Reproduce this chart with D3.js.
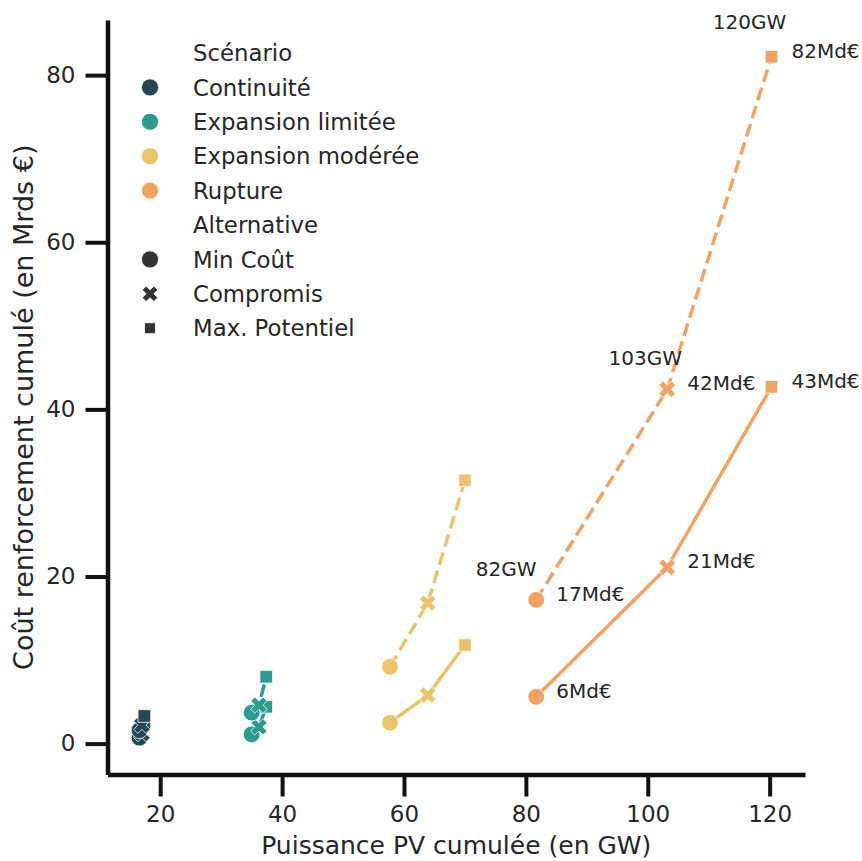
<!DOCTYPE html>
<html>
<head>
<meta charset="utf-8">
<script src="https://cdn.jsdelivr.net/npm/d3@7"></script>
<style>
  html, body { margin: 0; padding: 0; background: #fff; }
  svg { display: block; font-family: "DejaVu Sans", sans-serif; }
</style>
</head>
<body>
<svg id="chart" width="862" height="861"></svg>
<script>
// ---- Data ----
const scenarios = ["Continuité", "Expansion limitée", "Expansion modérée", "Rupture"];
const scenarioColors = ["#264653", "#2a9d8f", "#e9c46a", "#f4a261"];
const alternatives = ["Min Coût", "Compromis", "Max. Potentiel"];
// Cumulative PV capacity (GW) per scenario, per alternative
const pvGW = [
  [16.6, 17.0, 17.4],
  [35.0, 36.2, 37.4],
  [57.7, 63.9, 70.0],
  [81.7, 103.2, 120.3]
];
// Cumulative reinforcement cost (bn €) — solid line series
const costSolid = [
  [0.7, 1.2, 2.4],
  [1.1, 2.0, 4.4],
  [2.5, 5.8, 11.8],
  [5.6, 21.1, 42.7]
];
// Cumulative reinforcement cost (bn €) — dashed line series
const costDashed = [
  [1.6, 2.2, 3.3],
  [3.7, 4.6, 8.0],
  [9.2, 16.8, 31.5],
  [17.2, 42.4, 82.2]
];
const xTicks = [20, 40, 60, 80, 100, 120];
const yTicks = [0, 20, 40, 60, 80];
const xLabel = "Puissance PV cumulée (en GW)";
const yLabel = "Coût renforcement cumulé (en Mrds €)";
const annotatedScenario = "Rupture";

// ---- Drawing ----
const svg = d3.select("#chart");
const textColor = "#262626";
const axisColor = "#111";

const x = d3.scaleLinear().domain([11.35, 125.8]).range([107.5, 805]);
const y = d3.scaleLinear().domain([-3.7, 86.6]).range([774.5, 20]);

// Axes
const xAxis = d3.axisBottom(x).tickValues(xTicks).tickSize(22).tickSizeOuter(0).tickPadding(9);
const gx = svg.append("g").attr("transform", `translate(0,${y.range()[0]})`).call(xAxis);
const yAxis = d3.axisLeft(y).tickValues(yTicks).tickSize(22).tickSizeOuter(0).tickPadding(10);
const gy = svg.append("g").attr("transform", `translate(${x.range()[0]},0)`).call(yAxis);
[gx, gy].forEach(g => {
  g.select(".domain").attr("stroke", axisColor).attr("stroke-width", 4.5);
  g.selectAll(".tick line").attr("stroke", axisColor).attr("stroke-width", 4);
  g.selectAll(".tick text").attr("fill", textColor).attr("font-size", 23)
    .attr("font-family", "DejaVu Sans");
});

// Axis labels
svg.append("text")
  .attr("x", (x.range()[0] + x.range()[1]) / 2)
  .attr("y", 854)
  .attr("text-anchor", "middle")
  .attr("font-size", 25)
  .attr("fill", textColor)
  .text(xLabel);
svg.append("text")
  .attr("transform", `translate(33,${(y.range()[0] + y.range()[1]) / 2 + 10}) rotate(-90)`)
  .attr("text-anchor", "middle")
  .attr("font-size", 27)
  .attr("fill", textColor)
  .text(yLabel);

// Marker shapes
const xShape = {
  draw(context, size) {
    // filled "X": a plus rotated 45°
    const r = Math.sqrt(size / 5) / 2;
    const pts = [[-r, -3 * r], [r, -3 * r], [r, -r], [3 * r, -r], [3 * r, r], [r, r], [r, 3 * r], [-r, 3 * r], [-r, r], [-3 * r, r], [-3 * r, -r], [-r, -r]];
    const c = Math.SQRT1_2;
    pts.forEach((p, i) => {
      const px = (p[0] - p[1]) * c, py = (p[0] + p[1]) * c;
      if (i === 0) context.moveTo(px, py); else context.lineTo(px, py);
    });
    context.closePath();
  }
};
const shapes = [d3.symbolCircle, xShape, d3.symbolSquare];
const sizes = [220, 170, 160];

const line = d3.line().x(d => x(d[0])).y(d => y(d[1]));

const series = [
  { cost: costSolid, dash: null },
  { cost: costDashed, dash: "13,6" }
];

// Lines
scenarios.forEach((s, si) => {
  series.forEach(ser => {
    const pts = pvGW[si].map((gw, ai) => [gw, ser.cost[si][ai]]);
    svg.append("path")
      .datum(pts)
      .attr("d", line)
      .attr("fill", "none")
      .attr("stroke", scenarioColors[si])
      .attr("stroke-width", 3.5)
      .attr("stroke-dasharray", ser.dash);
  });
});

// Markers
scenarios.forEach((s, si) => {
  series.forEach(ser => {
    pvGW[si].forEach((gw, ai) => {
      svg.append("path")
        .attr("d", d3.symbol().type(shapes[ai]).size(sizes[ai])())
        .attr("transform", `translate(${x(gw)},${y(ser.cost[si][ai])})`)
        .attr("fill", scenarioColors[si])
        .attr("stroke", "#fff")
        .attr("stroke-width", 0.8);
    });
  });
});

// Annotations for the Rupture scenario
const ri = scenarios.indexOf(annotatedScenario);
series.forEach(ser => {
  pvGW[ri].forEach((gw, ai) => {
    svg.append("text")
      .attr("x", x(gw) + 20)
      .attr("y", y(ser.cost[ri][ai]) + 1)
      .attr("font-size", 20)
      .attr("fill", textColor)
      .text(Math.round(ser.cost[ri][ai]) + "Md€");
  });
});
const gwDx = [-30, -22, -22];
pvGW[ri].forEach((gw, ai) => {
  svg.append("text")
    .attr("x", x(gw) + gwDx[ai])
    .attr("y", y(costDashed[ri][ai]) - (ai === 2 ? 28 : 24))
    .attr("text-anchor", "middle")
    .attr("font-size", 20)
    .attr("fill", textColor)
    .text(Math.round(gw) + "GW");
});

// Legend
const legend = svg.append("g").attr("font-size", 22.8).attr("fill", textColor);
const rowH = 34.4;
const legendRows = [
  { label: "Scénario", title: true },
  ...scenarios.map((s, i) => ({ label: s, color: scenarioColors[i], shape: d3.symbolCircle, size: 230 })),
  { label: "Alternative", title: true },
  ...alternatives.map((a, i) => ({ label: a, color: "#333333", shape: shapes[i], size: [230, 150, 120][i] }))
];
legendRows.forEach((r, i) => {
  const cy = 53 + i * rowH;
  if (!r.title) {
    legend.append("path")
      .attr("d", d3.symbol().type(r.shape).size(r.size)())
      .attr("transform", `translate(150,${cy})`)
      .attr("fill", r.color)
      .attr("stroke", "#fff")
      .attr("stroke-width", 0.8);
  }
  legend.append("text")
    .attr("x", 193)
    .attr("y", cy)
    .attr("dy", "0.36em")
    .text(r.label);
});
</script>
</body>
</html>
